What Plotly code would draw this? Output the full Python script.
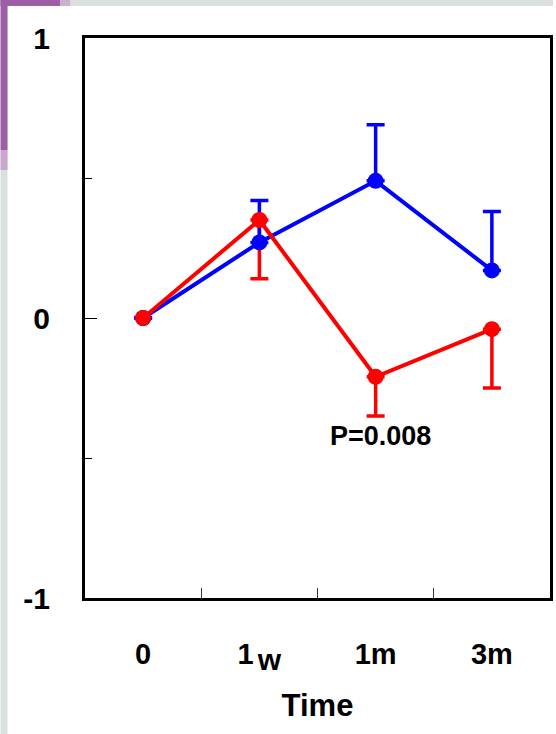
import plotly.graph_objects as go

# ---- data ----
categories = ["0", "1w", "1m", "3m"]
tick_text = ["0", "1<sub>\u2009<span style='font-size:30px'>w</span></sub>", "1m", "3m"]
x_pos = [0, 1, 2, 3]
blue_mean = [0, 0.27, 0.49, 0.17]
blue_err_up = [0, 0.15, 0.20, 0.21]
red_mean = [0, 0.35, -0.21, -0.04]
red_err_down = [0, 0.21, 0.14, 0.21]
zeros = [0, 0, 0, 0]
y_ticks = [-1, 0, 1]
y_minor = [-0.5, 0.5]
x_minor = [0.5, 1.5, 2.5]
p_text = "P=0.008"

W, H = 556, 734
L, R, T, B = 85, 3, 38, 136
PW, PH = W - L - R, H - T - B


def px(xp):
    return (xp - L) / PW


def py(yp):
    return (H - B - yp) / PH


BLUE = "#0000ff"
RED = "#ff0000"
FONT = "Liberation Sans"

fig = go.Figure()

# red error bars (drawn underneath blue)
fig.add_trace(go.Scatter(
    x=x_pos, y=red_mean, mode="markers",
    marker=dict(size=1, color="rgba(0,0,0,0)"),
    error_y=dict(type="data", symmetric=False, array=zeros, arrayminus=red_err_down,
                 color=RED, thickness=3.5, width=9),
    showlegend=False, hoverinfo="skip"))

# blue series
fig.add_trace(go.Scatter(
    x=x_pos, y=blue_mean, mode="lines+markers",
    line=dict(color=BLUE, width=4),
    marker=dict(size=16, color=BLUE),
    error_y=dict(type="data", symmetric=False, array=blue_err_up, arrayminus=zeros,
                 color=BLUE, thickness=3.5, width=9),
    showlegend=False))

# red series
fig.add_trace(go.Scatter(
    x=x_pos, y=red_mean, mode="lines+markers",
    line=dict(color=RED, width=4),
    marker=dict(size=16, color=RED),
    showlegend=False))

fig.add_annotation(x=2.04, y=-0.42, text=p_text, showarrow=False,
                   font=dict(family=FONT, size=27, color="black", weight="bold"))

# background decoration (slide border)
PURPLE = "#9c5ea6"
GRAY = "#dcdfdf"
shapes = [
    dict(type="rect", xref="paper", yref="paper", x0=px(0), x1=px(W), y0=py(6), y1=py(0),
         fillcolor=GRAY, line=dict(width=0), layer="below"),
    dict(type="rect", xref="paper", yref="paper", x0=px(0), x1=px(7), y0=py(H), y1=py(0),
         fillcolor=GRAY, line=dict(width=0), layer="below"),
    dict(type="rect", xref="paper", yref="paper", x0=px(0), x1=px(60), y0=py(6), y1=py(0),
         fillcolor=PURPLE, line=dict(width=0), layer="below"),
    dict(type="rect", xref="paper", yref="paper", x0=px(0), x1=px(7), y0=py(150), y1=py(0),
         fillcolor=PURPLE, line=dict(width=0), layer="below"),
    dict(type="rect", xref="paper", yref="paper", x0=px(0), x1=px(7), y0=py(170), y1=py(150),
         fillcolor="#c9a7cf", line=dict(width=0), layer="below"),
    dict(type="rect", xref="paper", yref="paper", x0=px(60), x1=px(70), y0=py(6), y1=py(0),
         fillcolor="#c6b3ca", line=dict(width=0), layer="below"),
]

fig.update_layout(
    width=W, height=H,
    margin=dict(l=L, r=R, t=T, b=B),
    paper_bgcolor="white", plot_bgcolor="white",
    shapes=shapes,
    showlegend=False,
    xaxis=dict(
        range=[-0.5, 3.5], tickmode="array", tickvals=x_pos, ticktext=tick_text,
        ticks="", showgrid=False, zeroline=False,
        showline=True, linewidth=3, linecolor="black", mirror=True,
        tickfont=dict(family=FONT, size=29, color="black", weight="bold"),
        ticklabelstandoff=28,
        minor=dict(tickmode="array", tickvals=x_minor, ticks="inside", ticklen=10,
                   tickwidth=1, tickcolor="#333333", showgrid=False),
        title=dict(text="Time", font=dict(family=FONT, size=31, color="black", weight="bold"),
                   standoff=20),
    ),
    yaxis=dict(
        range=[-1, 1], tickmode="array", tickvals=y_ticks, ticktext=["-1", "0", "1"],
        ticks="inside", ticklen=12, tickwidth=1, tickcolor="black",
        showgrid=False, zeroline=False,
        showline=True, linewidth=3, linecolor="black", mirror=True,
        tickfont=dict(family=FONT, size=30, color="black", weight="bold"),
        ticklabelstandoff=26,
        minor=dict(tickmode="array", tickvals=y_minor, ticks="inside", ticklen=7,
                   tickwidth=1, tickcolor="black", showgrid=False),
    ),
)

fig.write_html("out.html", config={"displayModeBar": False},
               post_script="document.body.style.margin='0';document.body.style.overflow='hidden';")
